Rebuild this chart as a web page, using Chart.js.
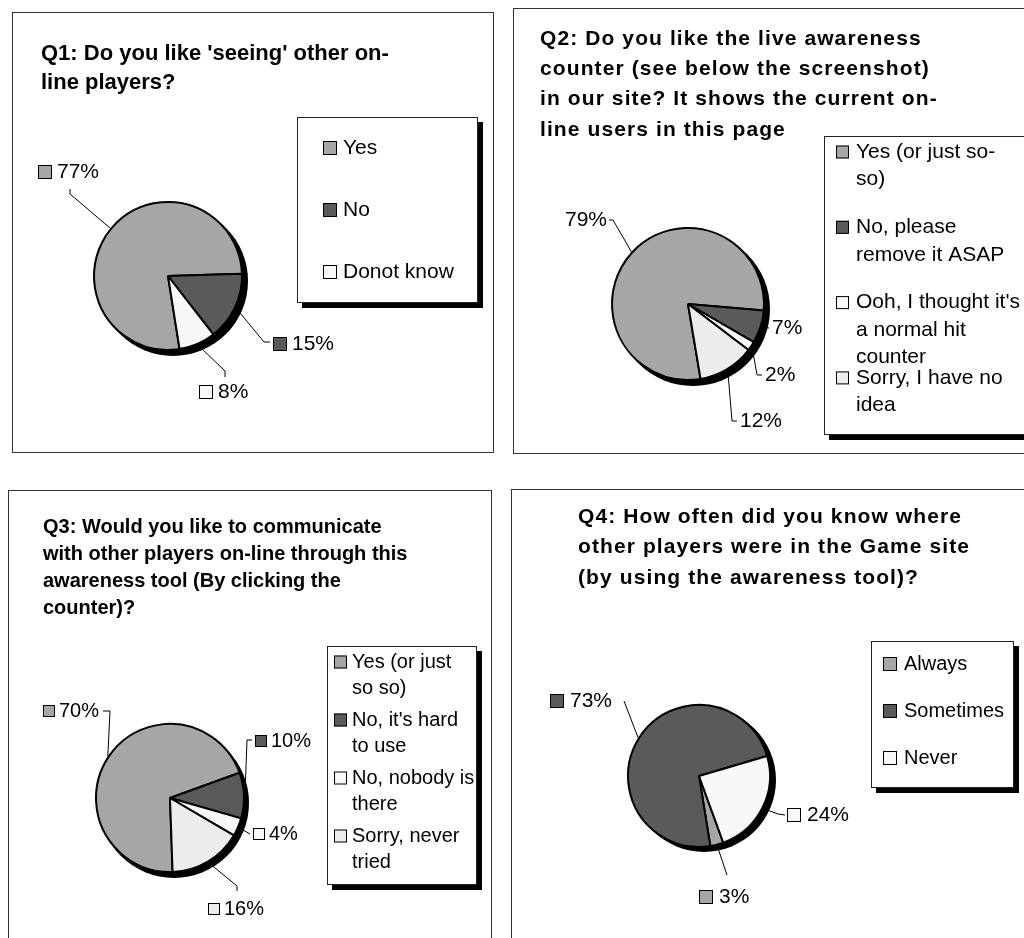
<!DOCTYPE html>
<html>
<head>
<meta charset="utf-8">
<script src="https://cdn.jsdelivr.net/npm/chart.js@4.4.1/dist/chart.umd.min.js"></script>
<style>
    html, body {
        margin: 0;
        width: 1024px;
        height: 938px;
        overflow: hidden;
        background: #ffffff;
    }
    .panel {
        position: absolute;
    }
</style>
</head>
<body>

<div class="panel" style="left:12px;top:12px"><canvas id="q1" width="482" height="441"></canvas></div>
<div class="panel" style="left:513px;top:8px"><canvas id="q2" width="540" height="446"></canvas></div>
<div class="panel" style="left:8px;top:490px"><canvas id="q3" width="484" height="470"></canvas></div>
<div class="panel" style="left:511px;top:489px"><canvas id="q4" width="540" height="470"></canvas></div>

<script>
const FONT = "'Liberation Sans', Arial, sans-serif";

const GRAY = "#a6a6a6";
const DARK = "#5a5a5a";
const WHITE = "#f8f8f8";
const LIGHT = "#ececec";

// survey answers, in percent
const q1Title = ["Q1: Do you like 'seeing' other on-", "line players?"];
const q1Labels = ["Yes", "No", "Donot know"];
const q1Values = [77, 15, 8];

const q2Title = [
    "Q2: Do you like the live awareness",
    "counter (see below the screenshot)",
    "in our site? It shows the current on-",
    "line users in this page"
];
const q2Labels = [
    "Yes (or just so-so)",
    "No, please remove it ASAP",
    "Ooh, I thought it's a normal hit counter",
    "Sorry, I have no idea"
];
const q2Values = [79, 7, 2, 12];

const q3Title = [
    "Q3: Would you like to communicate",
    "with other players on-line through this",
    "awareness tool (By clicking the",
    "counter)?"
];
const q3Labels = [
    "Yes (or just so so)",
    "No, it's hard to use",
    "No, nobody is there",
    "Sorry, never tried"
];
const q3Values = [70, 10, 4, 16];

const q4Title = [
    "Q4: How often did you know where",
    "other players were in the Game site",
    "(by using the awareness tool)?"
];
const q4Labels = ["Always", "Sometimes", "Never"];
const q4Values = [3, 73, 24];

// layout of each panel: pie centre/radius, title, value labels, legend box
const panels = [
    {
        id: "q1", title: q1Title, labels: q1Labels, values: q1Values,
        colors: [GRAY, DARK, WHITE],
        cx: 156, cy: 264, r: 74, rotation: 171, shadow: [5, 5],
        titleFont: 22, titleSpacing: 0, titleX: 29, titleY: 42, titleLine: 29,
        labelFont: 21, keys: true, keySize: 14, keyGap: 19,
        spots: [
            { x: -130, y: -104, path: [[-98, -82], [-98, -87]] },
            { x: 105, y: 68, path: [[96, 66], [102, 66]] },
            { x: 31, y: 116, path: [[57, 95], [57, 101]] }
        ],
        legend: { x: 285, y: 105, w: 181, h: 186, font: 21, key: 14, keyX: 26, textX: 46, firstY: 31, pitch: 62, line: 27, wrap: 150 }
    },
    {
        id: "q2", title: q2Title, labels: q2Labels, values: q2Values,
        colors: [GRAY, DARK, WHITE, LIGHT],
        cx: 175, cy: 296, r: 76, rotation: 170.5, shadow: [5, 5],
        titleFont: 21, titleSpacing: 1.1, titleX: 27, titleY: 31, titleLine: 30.3,
        labelFont: 21, keys: false,
        spots: [
            { x: -81, y: -84, align: "right", path: [[-75, -84], [-79, -84]] },
            { x: 84, y: 24, path: [[81, 24]] },
            { x: 77, y: 71, path: [[69, 71], [74, 71]] },
            { x: 52, y: 117, path: [[44, 117], [49, 117]] }
        ],
        legend: { x: 311, y: 128, w: 211, h: 299, font: 21, key: 13, keyX: 12, textX: 32, firstY: 16, pitch: 75.3, line: 27.5, wrap: 166 }
    },
    {
        id: "q3", title: q3Title, labels: q3Labels, values: q3Values,
        colors: [GRAY, DARK, WHITE, LIGHT],
        cx: 162, cy: 308, r: 74, rotation: 178, shadow: [4, 5],
        titleFont: 20, titleSpacing: 0, titleX: 35, titleY: 37, titleLine: 27.3,
        labelFont: 20, keys: true, keySize: 12, keyGap: 16,
        spots: [
            { x: -127, y: -87, path: [[-60, -87], [-67, -87]] },
            { x: 85, y: -57, path: [[77, -58], [82, -58]] },
            { x: 83, y: 36, path: [[80, 36]] },
            { x: 38, y: 111, path: [[67, 88], [67, 93]] }
        ],
        legend: { x: 319, y: 156, w: 150, h: 239, font: 20, key: 13, keyX: 7, textX: 25, firstY: 16, pitch: 58, line: 26, wrap: 125 }
    },
    {
        id: "q4", title: q4Title, labels: q4Labels, values: q4Values,
        colors: [GRAY, DARK, WHITE],
        cx: 188, cy: 287, r: 71, rotation: 160, shadow: [5, 4],
        titleFont: 21, titleSpacing: 1.1, titleX: 67, titleY: 28, titleLine: 30.5,
        labelFont: 21, keys: true, keySize: 14, keyGap: 20,
        spots: [
            { x: 0, y: 121, path: [[28, 99]] },
            { x: -149, y: -75, path: [[-75, -75]] },
            { x: 88, y: 39, path: [[79, 38], [86, 39]] }
        ],
        legend: { x: 360, y: 152, w: 143, h: 147, font: 20, key: 14, keyX: 12, textX: 33, firstY: 23, pitch: 47, line: 26, wrap: 120 }
    }
];

function drawKey(ctx, x, y, size, color) {
    ctx.fillStyle = color;
    ctx.fillRect(x, y, size, size);
    ctx.strokeStyle = "#000";
    ctx.lineWidth = 1;
    ctx.strokeRect(x + 0.5, y + 0.5, size - 1, size - 1);
}

// greedy wrap, allowed to break after spaces and hyphens
function wrapText(ctx, text, maxWidth) {
    const tokens = text.match(/[^\s-]+-?\s*|\s+/g) || [text];
    const lines = [];
    let line = "";
    tokens.forEach(tok => {
        const test = line + tok;
        if (line && ctx.measureText(test.trimEnd()).width > maxWidth) {
            lines.push(line.trimEnd());
            line = tok.trimStart();
        } else {
            line = test;
        }
    });
    if (line) lines.push(line.trimEnd());
    return lines;
}

function makeDecor(p) {
    return {
        id: "excelDecor",

        beforeDraw(chart) {
            const ctx = chart.ctx;
            ctx.save();
            ctx.fillStyle = "#ffffff";
            ctx.fillRect(0, 0, chart.width, chart.height);
            ctx.strokeStyle = "#333";
            ctx.lineWidth = 1;
            ctx.strokeRect(0.5, 0.5, chart.width - 1, chart.height - 1);
            ctx.restore();
        },

        // black disc behind the pie gives the raised look
        beforeDatasetsDraw(chart) {
            const arc = chart.getDatasetMeta(0).data[0];
            if (!arc) return;
            const ctx = chart.ctx;
            ctx.save();
            ctx.fillStyle = "#000";
            ctx.beginPath();
            ctx.arc(arc.x + p.shadow[0], arc.y + p.shadow[1], arc.outerRadius + 1, 0, Math.PI * 2);
            ctx.fill();
            ctx.restore();
        },

        afterDatasetsDraw(chart) {
            const ctx = chart.ctx;
            const meta = chart.getDatasetMeta(0);
            const ds = chart.data.datasets[0];
            const total = ds.data.reduce((s, v) => s + v, 0);

            ctx.save();
            meta.data.forEach((arc, i) => {
                const s = p.spots[i];
                const mid = (arc.startAngle + arc.endAngle) / 2;
                const R = arc.outerRadius + 1;

                // leader line
                ctx.strokeStyle = "#000";
                ctx.lineWidth = 1;
                ctx.beginPath();
                ctx.moveTo(arc.x + Math.cos(mid) * R, arc.y + Math.sin(mid) * R);
                s.path.forEach(pt => ctx.lineTo(arc.x + pt[0], arc.y + pt[1]));
                ctx.stroke();

                // value label
                const text = Math.round(ds.data[i] / total * 100) + "%";
                let tx = arc.x + s.x;
                const ty = arc.y + s.y;
                if (p.keys) {
                    drawKey(ctx, tx, ty - p.keySize / 2, p.keySize, ds.backgroundColor[i]);
                    tx += p.keyGap;
                }
                ctx.font = p.labelFont + "px " + FONT;
                ctx.fillStyle = "#000";
                ctx.textBaseline = "middle";
                ctx.textAlign = s.align === "right" ? "right" : "left";
                ctx.fillText(text, tx, ty);
            });
            ctx.restore();
        },

        afterDraw(chart) {
            const ctx = chart.ctx;
            const ds = chart.data.datasets[0];
            ctx.save();

            // question title
            ctx.fillStyle = "#000";
            ctx.textBaseline = "middle";
            ctx.textAlign = "left";
            ctx.font = "bold " + p.titleFont + "px " + FONT;
            ctx.letterSpacing = p.titleSpacing + "px";
            p.title.forEach((line, i) => {
                ctx.fillText(line, p.titleX, p.titleY + i * p.titleLine);
            });
            ctx.letterSpacing = "0px";

            // legend box with drop shadow
            const L = p.legend;
            ctx.fillStyle = "#000";
            ctx.fillRect(L.x + 5, L.y + 5, L.w, L.h);
            ctx.fillStyle = "#fff";
            ctx.fillRect(L.x, L.y, L.w, L.h);
            ctx.strokeStyle = "#222";
            ctx.lineWidth = 1;
            ctx.strokeRect(L.x + 0.5, L.y + 0.5, L.w - 1, L.h - 1);

            ctx.font = L.font + "px " + FONT;
            chart.data.labels.forEach((name, i) => {
                const y = L.y + L.firstY + i * L.pitch;
                drawKey(ctx, L.x + L.keyX, y - L.key / 2, L.key, ds.backgroundColor[i]);
                ctx.fillStyle = "#000";
                wrapText(ctx, name, L.wrap).forEach((line, k) => {
                    ctx.fillText(line, L.x + L.textX, y + k * L.line);
                });
            });
            ctx.restore();
        }
    };
}

panels.forEach(p => {
    const canvas = document.getElementById(p.id);
    const W = canvas.width;
    const H = canvas.height;

    new Chart(canvas, {
        type: "pie",
        data: {
            labels: p.labels,
            datasets: [
                {
                    data: p.values,
                    backgroundColor: p.colors,
                    borderColor: "#000",
                    borderWidth: 2,
                    rotation: p.rotation,
                    radius: p.r
                }
            ]
        },
        options: {
            responsive: false,
            animation: false,
            events: [],
            layout: {
                padding: {
                    left: p.cx - p.r,
                    top: p.cy - p.r,
                    right: W - p.cx - p.r,
                    bottom: H - p.cy - p.r
                }
            },
            plugins: {
                legend: { display: false },
                title: { display: false },
                tooltip: { enabled: false }
            }
        },
        plugins: [makeDecor(p)]
    });
});
</script>
</body>
</html>
